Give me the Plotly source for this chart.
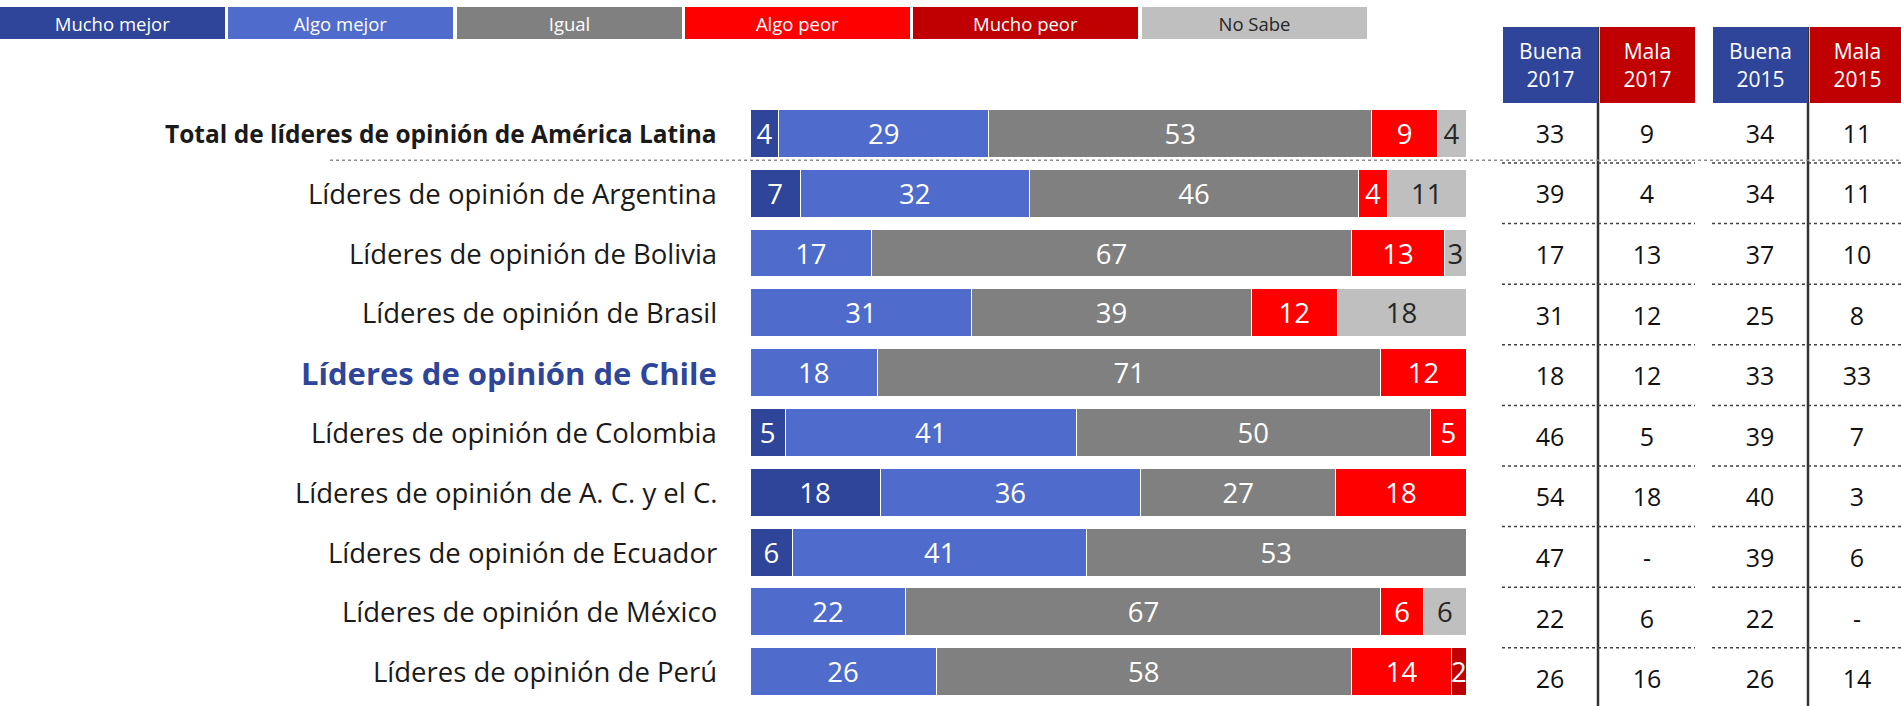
import plotly.graph_objects as go

# ---------------- data ----------------
rows = [
    "Total de líderes de opinión de América Latina",
    "Líderes de opinión de Argentina",
    "Líderes de opinión de Bolivia",
    "Líderes de opinión de Brasil",
    "Líderes de opinión de Chile",
    "Líderes de opinión de Colombia",
    "Líderes de opinión de A. C. y el C.",
    "Líderes de opinión de Ecuador",
    "Líderes de opinión de México",
    "Líderes de opinión de Perú",
]

series_names = ["Mucho mejor", "Algo mejor", "Igual", "Algo peor", "Mucho peor", "No Sabe"]
mucho_mejor = [4, 7, None, None, None, 5, 18, 6, None, None]
algo_mejor = [29, 32, 17, 31, 18, 41, 36, 41, 22, 26]
igual = [53, 46, 67, 39, 71, 50, 27, 53, 67, 58]
algo_peor = [9, 4, 13, 12, 12, 5, 18, None, 6, 14]
mucho_peor = [None, None, None, None, None, None, None, None, None, 2]
no_sabe = [4, 11, 3, 18, None, None, None, None, 6, None]

table_headers = ["Buena<br>2017", "Mala<br>2017", "Buena<br>2015", "Mala<br>2015"]
buena_2017 = [33, 39, 17, 31, 18, 46, 54, 47, 22, 26]
mala_2017 = [9, 4, 13, 12, 12, 5, 18, None, 6, 16]
buena_2015 = [34, 34, 37, 25, 33, 39, 40, 39, 22, 26]
mala_2015 = [11, 11, 10, 8, 33, 7, 3, 6, None, 14]

# ---------------- styles ----------------
W, H = 1901, 706
FONT = "Open Sans"
series_colors = ["#2E4599", "#4F6BCB", "#808080", "#FF0000", "#C00000", "#BFBFBF"]
series_text_colors = ["white", "white", "white", "white", "white", "#262626"]
header_colors = ["#2E4599", "#C00000", "#2E4599", "#C00000"]
table_cols_x = [49, 146, 259, 356]          # x2 units (pixels inside table area)
table_dividers_x = [97, 307]
table_groups = [(1, 194), (211, 400)]
label_color = "#1A1A1A"
highlight = "Líderes de opinión de Chile"
total_row = rows[0]

def px_x(p):
    return p / W

def px_y(p):
    return 1 - p / H

fig = go.Figure()

series_values = [mucho_mejor, algo_mejor, igual, algo_peor, mucho_peor, no_sabe]
for name, vals, col, tcol in zip(series_names, series_values, series_colors, series_text_colors):
    fig.add_trace(go.Bar(
        name=name,
        y=rows,
        x=vals,
        orientation="h",
        marker=dict(color=col, line=dict(color="white", width=1)),
        text=["" if v is None else str(v) for v in vals],
        textposition="inside",
        insidetextanchor="middle",
        textangle=0,
        textfont=dict(family=FONT, size=27.5, color=tcol),
        hoverinfo="skip",
        showlegend=False,
    ))

table_values = [buena_2017, mala_2017, buena_2015, mala_2015]
for cx, vals in zip(table_cols_x, table_values):
    fig.add_trace(go.Scatter(
        x=[cx] * len(vals),
        y=list(range(len(vals))),
        mode="text",
        text=["-" if v is None else str(v) for v in vals],
        textfont=dict(family=FONT, size=25, color="#111111"),
        xaxis="x2", yaxis="y2",
        hoverinfo="skip",
        showlegend=False,
    ))

shapes = []
# table vertical dividers
for dx in table_dividers_x:
    shapes.append(dict(type="line", xref="x2", yref="y2", x0=dx, x1=dx,
                       y0=-1.807, y1=9.45, line=dict(color="#333333", width=2.5),
                       layer="above"))
# table dotted separators
for i in range(len(rows) - 1):
    for (a, b) in table_groups:
        shapes.append(dict(type="line", xref="x2", yref="y2", x0=a, x1=b,
                           y0=i + 0.437, y1=i + 0.437,
                           line=dict(color="#404040", width=1.5, dash="dot")))
# separator under total row
shapes.append(dict(type="line", xref="paper", yref="y", x0=px_x(330), x1=1,
                   y0=0.45, y1=0.45, line=dict(color="#8C8C8C", width=1.5, dash="dot")))

annotations = []
# legend boxes
for i, (name, col) in enumerate(zip(series_names, series_colors)):
    annotations.append(dict(
        xref="paper", yref="paper", x=px_x(112.5 + i * 228.3), y=px_y(23),
        xanchor="center", yanchor="middle", showarrow=False,
        text=name, width=225, height=32, bgcolor=col, borderpad=0, borderwidth=0,
        font=dict(family=FONT, size=18.5, color=series_text_colors[i]),
    ))
# table headers
for cx, txt, col in zip(table_cols_x, table_headers, header_colors):
    annotations.append(dict(
        xref="x2", yref="y2", x=cx, y=-1.18, xanchor="center", yanchor="middle",
        showarrow=False, text=txt, width=95, height=76, bgcolor=col,
        borderpad=0, borderwidth=0,
        font=dict(family=FONT, size=21, color="white"),
    ))
# row labels
for r in rows:
    if r == total_row:
        f = dict(family=FONT, size=24.5, color=label_color, weight="bold")
    elif r == highlight:
        f = dict(family=FONT, size=31, color="#2E4599", weight="bold")
    else:
        f = dict(family=FONT, size=27.5, color=label_color)
    annotations.append(dict(
        xref="paper", yref="y", x=px_x(719), y=r, xanchor="right", yanchor="middle",
        showarrow=False, text=r, font=f,
    ))

fig.update_layout(
    width=W, height=H, autosize=False,
    margin=dict(l=0, r=0, t=0, b=0),
    paper_bgcolor="white", plot_bgcolor="white",
    barmode="stack", barnorm="percent", bargap=0.2,
    uniformtext=dict(minsize=27.5, mode="show"),
    font=dict(family=FONT),
    xaxis=dict(domain=[px_x(750), px_x(1466)], range=[0, 100], visible=False, fixedrange=True),
    yaxis=dict(domain=[1 - 701.6 / H, 1 - 103.5 / H], type="category",
               categoryorder="array", categoryarray=rows,
               range=[9.5, -0.5], visible=False, fixedrange=True),
    xaxis2=dict(domain=[px_x(1501), 1], range=[0, 400], anchor="y2", visible=False, fixedrange=True),
    yaxis2=dict(domain=[0, 1], range=[(H - 136.5) / 60.6, -136.5 / 60.6], anchor="x2",
                visible=False, fixedrange=True),
    shapes=shapes,
    annotations=annotations,
    showlegend=False,
)

fig.write_html(
    "out.html",
    config={"displayModeBar": False},
    post_script="document.body.style.margin='0';document.body.style.overflow='hidden';",
)
